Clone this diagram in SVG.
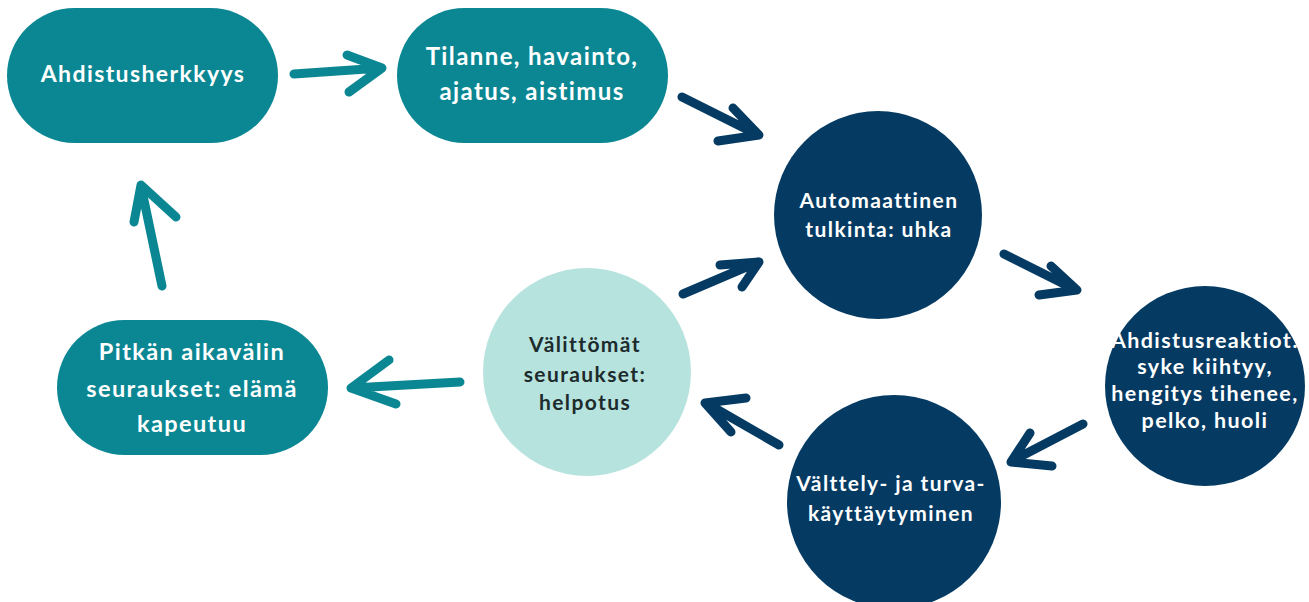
<svg xmlns="http://www.w3.org/2000/svg" width="1309" height="602" viewBox="0 0 1309 602">
<style>
.teal{fill:#0b8793}
.navy{fill:#053b63}
.light{fill:#b7e3df}
text{font-family:Lato,"Liberation Sans",sans-serif;font-weight:700;text-anchor:middle;letter-spacing:1.4px}
.w{fill:#ffffff}
.d{fill:#1d2b2d}
.at{fill:none;stroke:#0b8793;stroke-width:9;stroke-linecap:round;stroke-linejoin:round}
.an{fill:none;stroke:#053b63;stroke-width:9;stroke-linecap:round;stroke-linejoin:round}
</style>
<rect width="1309" height="602" fill="#ffffff"/>
<g id="connectors">
<path class="at" d="M294,74 L381,68 M347,55 L382,68 L349,92"/>
<path class="an" d="M682,97 L758,135 M733,108 L759,135 L718,141"/>
<path class="an" d="M1004,254 L1076,290 M1051,266 L1077,290 L1039,295"/>
<path class="an" d="M1083,424 L1012,461 M1030,433 L1011,462 L1052,466"/>
<path class="an" d="M779,445 L706,403 M746,398 L705,403 L731,432"/>
<path class="an" d="M683,294 L758,262 M720,265 L759,262 L742,287"/>
<path class="at" d="M460,382 L352,388 M389,360 L351,388 L396,404"/>
<path class="at" d="M162,286 L141,186 M176,217 L141,185 L134,222"/>
</g>
<g id="n1"><rect class="teal" x="7" y="8" width="271" height="135" rx="67.5"/><text class="w" x="143" y="82" font-size="23">Ahdistusherkkyys</text></g>
<g id="n2"><rect class="teal" x="397" y="8" width="271" height="135" rx="67.5"/><text class="w" x="532" y="65" font-size="24">Tilanne, havainto,</text><text class="w" x="532" y="100" font-size="24">ajatus, aistimus</text></g>
<g id="n3"><circle class="navy" cx="878" cy="215" r="104"/><text class="w" x="879" y="208" font-size="21">Automaattinen</text><text class="w" x="879" y="237" font-size="21">tulkinta: uhka</text></g>
<g id="n4"><circle class="navy" cx="1205" cy="386" r="100"/><text class="w" x="1205" y="348" font-size="21.5">Ahdistusreaktiot:</text><text class="w" x="1205" y="374" font-size="21.5">syke kiihtyy,</text><text class="w" x="1205" y="401" font-size="21.5">hengitys tihenee,</text><text class="w" x="1205" y="428" font-size="21.5">pelko, huoli</text></g>
<g id="n5"><circle class="navy" cx="894" cy="502" r="107"/><text class="w" x="891" y="491" font-size="21">Välttely- ja turva-</text><text class="w" x="891" y="521" font-size="21">käyttäytyminen</text></g>
<g id="n6"><circle class="light" cx="587" cy="372" r="104"/><text class="d" x="585" y="352" font-size="21">Välittömät</text><text class="d" x="585" y="382" font-size="21">seuraukset:</text><text class="d" x="585" y="410" font-size="21">helpotus</text></g>
<g id="n7"><rect class="teal" x="57" y="320" width="271" height="135" rx="67.5"/><text class="w" x="192" y="360" font-size="23.5">Pitkän aikavälin</text><text class="w" x="192" y="397" font-size="23.5">seuraukset: elämä</text><text class="w" x="192" y="432" font-size="23.5">kapeutuu</text></g>
</svg>
